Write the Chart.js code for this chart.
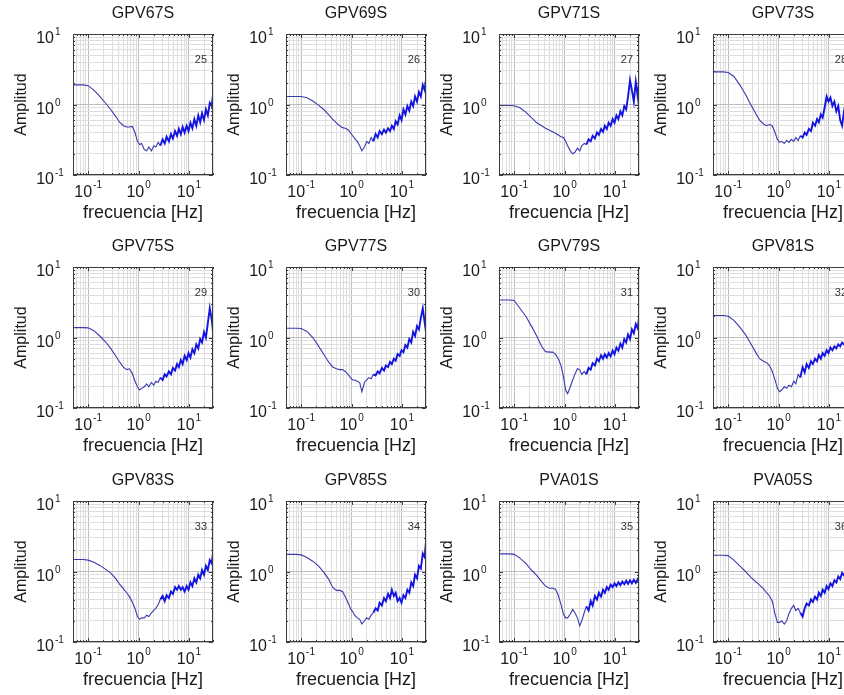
<!DOCTYPE html>
<html>
<head>
<meta charset="utf-8">
<script src="https://cdn.jsdelivr.net/npm/chart.js@4/dist/chart.umd.min.js"></script>
<style>
  html, body { margin: 0; padding: 0; background: #fff; }
  #wrap { position: relative; width: 844px; height: 695px; overflow: hidden; background: #fff; }
  #wrap canvas { position: absolute; }
</style>
</head>
<body>
<div id="wrap"></div>
<script>
// frecuencias comunes (Hz)
const freq = [
  0.05, 0.08, 0.1, 0.13, 0.17, 0.22, 0.28, 0.35, 0.42, 0.5,
  0.58, 0.66, 0.75, 0.85, 0.95, 1.05, 1.15, 1.3, 1.45, 1.6,
  1.8, 2.0, 2.2, 2.45, 2.7, 3.0, 3.3, 3.6, 4.0, 4.4,
  4.8, 5.3, 5.8, 6.3, 6.9, 7.5, 8.2, 9.0, 9.8, 10.7,
  11.7, 12.8, 14.0, 15.3, 16.7, 18.2, 19.9, 21.7, 23.7, 25.9,
  28.3, 30
];

const gpv67s = [
  1.9, 1.9, 1.85, 1.6, 1.3, 1.05, 0.85, 0.68, 0.56, 0.5,
  0.48, 0.48, 0.49, 0.4, 0.3, 0.27, 0.28, 0.23, 0.22, 0.25,
  0.22, 0.26, 0.25, 0.29, 0.26, 0.32, 0.28, 0.35, 0.3, 0.38,
  0.33, 0.42, 0.36, 0.45, 0.38, 0.48, 0.4, 0.5, 0.42, 0.55,
  0.46, 0.62, 0.5, 0.7, 0.56, 0.75, 0.6, 0.85, 0.7, 1.05,
  0.95, 1.4
];
const gpv69s = [
  1.3, 1.3, 1.3, 1.25, 1.12, 0.98, 0.85, 0.72, 0.62, 0.55,
  0.5, 0.47, 0.46, 0.44, 0.4, 0.36, 0.33, 0.3, 0.26, 0.22,
  0.25, 0.3, 0.28, 0.34, 0.3, 0.38, 0.34, 0.42, 0.38, 0.44,
  0.4, 0.46, 0.42, 0.5, 0.45, 0.58, 0.52, 0.7, 0.6, 0.85,
  0.72, 0.95, 0.82, 1.1, 0.95, 1.3, 1.1, 1.5, 1.3, 1.9,
  1.6, 2.3
];
const gpv71s = [
  0.97, 0.97, 0.96, 0.9, 0.78, 0.65, 0.55, 0.5, 0.46, 0.43,
  0.41, 0.39, 0.37, 0.35, 0.34, 0.3, 0.26, 0.22, 0.2, 0.21,
  0.24, 0.22, 0.26, 0.28, 0.27, 0.32, 0.3, 0.36, 0.33, 0.4,
  0.37, 0.45, 0.41, 0.5, 0.45, 0.55, 0.5, 0.62, 0.55, 0.7,
  0.62, 0.8, 0.7, 0.95, 0.85, 1.3, 2.2, 1.6, 1.1, 2.1,
  1.3, 2.0
];
const gpv73s = [
  2.9, 2.9, 2.85, 2.5, 1.9, 1.4, 1.0, 0.75, 0.6, 0.53,
  0.5, 0.52, 0.5, 0.4, 0.32, 0.29, 0.3, 0.28, 0.31, 0.29,
  0.32, 0.3, 0.34, 0.31, 0.36, 0.34, 0.4, 0.37, 0.45, 0.42,
  0.55, 0.5, 0.62, 0.56, 0.72, 0.65, 0.9, 1.3, 1.1, 1.25,
  0.95, 1.1, 0.8, 0.95, 0.6, 0.5, 0.8, 1.1, 0.9, 1.2,
  1.0, 1.3
];
const gpv75s = [
  1.38, 1.38, 1.37, 1.25, 1.05, 0.87, 0.7, 0.55, 0.45, 0.38,
  0.35, 0.36, 0.31, 0.24, 0.2, 0.18, 0.19, 0.2, 0.22, 0.2,
  0.23, 0.21, 0.24, 0.23, 0.27, 0.25, 0.3, 0.28, 0.33, 0.3,
  0.37, 0.34, 0.42, 0.38, 0.48, 0.42, 0.55, 0.48, 0.6, 0.52,
  0.68, 0.6, 0.8, 0.7, 0.95, 0.85, 1.2, 1.0, 1.6, 2.6,
  1.8, 1.2
];
const gpv77s = [
  1.35, 1.35, 1.34, 1.22, 1.0, 0.76, 0.58, 0.45, 0.38, 0.36,
  0.35, 0.35, 0.33, 0.3, 0.27, 0.25, 0.25, 0.24, 0.23, 0.17,
  0.23, 0.25, 0.27, 0.26, 0.3, 0.29, 0.33, 0.31, 0.37, 0.34,
  0.4, 0.38, 0.45, 0.42, 0.5, 0.47, 0.58, 0.55, 0.66, 0.62,
  0.78, 0.72, 0.95, 0.85, 1.2, 1.05, 1.45, 1.3, 1.9, 2.6,
  1.6, 1.2
];
const gpv79s = [
  3.4, 3.4, 3.35, 2.6, 2.0, 1.45, 1.05, 0.75, 0.63, 0.62,
  0.62, 0.58, 0.5, 0.4, 0.28, 0.18, 0.16, 0.2, 0.25, 0.3,
  0.36, 0.35, 0.3, 0.33, 0.3, 0.37, 0.35, 0.43, 0.4, 0.5,
  0.46, 0.56, 0.5, 0.58, 0.52, 0.6, 0.54, 0.65, 0.58, 0.72,
  0.65, 0.82, 0.72, 0.95, 0.85, 1.1, 0.95, 1.3, 1.15, 1.55,
  1.35, 1.9
];
const gpv81s = [
  2.05, 2.05, 2.0, 1.75, 1.4, 1.1, 0.82, 0.62, 0.5, 0.46,
  0.44, 0.4, 0.33, 0.25, 0.19, 0.17, 0.18, 0.2, 0.19, 0.21,
  0.2, 0.24, 0.22, 0.3, 0.27, 0.38, 0.32, 0.42, 0.37, 0.46,
  0.42, 0.5, 0.46, 0.56, 0.5, 0.6, 0.55, 0.66, 0.6, 0.72,
  0.66, 0.75, 0.7, 0.8, 0.75, 0.85, 0.8, 0.9, 0.85, 1.0,
  0.9, 1.1
];
const gpv83s = [
  1.48, 1.48, 1.45, 1.35, 1.22, 1.08, 0.95, 0.8, 0.66, 0.57,
  0.5, 0.44, 0.37, 0.3, 0.23, 0.21, 0.22, 0.22, 0.24, 0.23,
  0.26, 0.28, 0.3, 0.34, 0.4, 0.45, 0.38, 0.46, 0.42, 0.52,
  0.48, 0.6, 0.55, 0.62, 0.55, 0.6, 0.52, 0.62, 0.55, 0.7,
  0.62, 0.8, 0.7, 0.9, 0.8, 1.05, 0.9, 1.2, 1.05, 1.45,
  1.3, 1.85
];
const gpv85s = [
  1.75, 1.75, 1.72, 1.58, 1.4, 1.2, 0.98, 0.78, 0.6, 0.54,
  0.54, 0.52, 0.44, 0.36, 0.3, 0.27, 0.24, 0.22, 0.21, 0.18,
  0.2, 0.22, 0.21, 0.24, 0.26, 0.3, 0.28, 0.36, 0.33, 0.42,
  0.38, 0.48, 0.42, 0.55, 0.45, 0.5, 0.38, 0.42, 0.36, 0.46,
  0.42, 0.55, 0.5, 0.7, 0.62, 0.9, 0.8, 1.2, 1.1, 1.8,
  1.6, 2.7
];
const pva01s = [
  1.78, 1.78, 1.75, 1.55, 1.3, 1.05, 0.88, 0.72, 0.62, 0.58,
  0.58, 0.56, 0.46, 0.34, 0.25, 0.22, 0.22, 0.25, 0.29, 0.26,
  0.22, 0.17, 0.2, 0.26, 0.32, 0.28, 0.38, 0.33, 0.45, 0.4,
  0.5, 0.44, 0.55, 0.5, 0.6, 0.55, 0.65, 0.6, 0.68, 0.62,
  0.7, 0.64, 0.72, 0.66, 0.74, 0.67, 0.75, 0.68, 0.76, 0.69,
  0.78, 0.72
];
const pva05s = [
  1.7, 1.7, 1.68, 1.45, 1.2, 1.0, 0.83, 0.72, 0.64, 0.57,
  0.5, 0.45, 0.38, 0.25, 0.19, 0.19, 0.2, 0.18, 0.2, 0.25,
  0.3, 0.33, 0.28, 0.3, 0.26, 0.23, 0.3, 0.35, 0.33, 0.4,
  0.37, 0.44, 0.4, 0.5, 0.45, 0.55, 0.5, 0.62, 0.56, 0.68,
  0.62, 0.75, 0.7, 0.85, 0.78, 0.95, 0.88, 1.05, 0.95, 1.15,
  1.05, 1.3
];

const stations = ['GPV67S', 'GPV69S', 'GPV71S', 'GPV73S', 'GPV75S', 'GPV77S',
                  'GPV79S', 'GPV81S', 'GPV83S', 'GPV85S', 'PVA01S', 'PVA05S'];
const panelNumbers = ['25', '26', '27', '28', '29', '30', '31', '32', '33', '34', '35', '36'];
const series = [gpv67s, gpv69s, gpv71s, gpv73s, gpv75s, gpv77s,
                gpv79s, gpv81s, gpv83s, gpv85s, pva01s, pva05s];

// ejes log: líneas de grilla y etiquetas
const xGridTicks = [0.05, 0.06, 0.07, 0.08, 0.09, 0.1, 0.2, 0.3, 0.4, 0.5, 0.6, 0.7, 0.8, 0.9,
                    1, 2, 3, 4, 5, 6, 7, 8, 9, 10, 20, 30];
const yGridTicks = [0.1, 0.2, 0.3, 0.4, 0.5, 0.6, 0.7, 0.8, 0.9,
                    1, 2, 3, 4, 5, 6, 7, 8, 9, 10];
const xTickValues = [0.1, 1, 10];
const yTickValues = [0.1, 1, 10];
const tickExponents = ['-1', '0', '1'];

const FONT = '"Liberation Sans", Arial, Helvetica, sans-serif';
const LINE_SMOOTH = 'rgb(58, 58, 175)';
const LINE_NOISY = 'rgb(20, 20, 225)';
const NOISY_FROM = 2.5; // Hz, a partir de aquí la curva es más gruesa

const isDecade = v => Math.abs(Math.log10(v) - Math.round(Math.log10(v))) < 1e-6;

// posición de los paneles (px)
const colLeft = [0, 213, 426, 640];
const rowTop = [0, 233, 467];
const CW = 220, CH = 233;

// caja, marcas, etiquetas, títulos y número de panel
const labelsPlugin = {
  id: 'labels',
  afterDraw(chart, args, opts) {
    const ctx = chart.ctx;
    const a = chart.chartArea;
    const xs = chart.scales.x, ys = chart.scales.y;
    ctx.save();

    // caja
    ctx.strokeStyle = '#3c3c3c';
    ctx.lineWidth = 1;
    ctx.strokeRect(a.left + 0.5, a.top + 0.5, a.right - a.left - 1, a.bottom - a.top - 1);

    // marcas internas
    ctx.beginPath();
    xGridTicks.forEach(v => {
      const px = Math.round(xs.getPixelForValue(v)) + 0.5;
      const len = isDecade(v) ? 4 : 2;
      ctx.moveTo(px, a.bottom); ctx.lineTo(px, a.bottom - len);
      ctx.moveTo(px, a.top); ctx.lineTo(px, a.top + len);
    });
    yGridTicks.forEach(v => {
      const py = Math.round(ys.getPixelForValue(v)) + 0.5;
      const len = isDecade(v) ? 4 : 2;
      ctx.moveTo(a.left, py); ctx.lineTo(a.left + len, py);
      ctx.moveTo(a.right, py); ctx.lineTo(a.right - len, py);
    });
    ctx.stroke();

    ctx.fillStyle = '#1a1a1a';
    // etiquetas eje y
    yTickValues.forEach((v, i) => {
      const py = ys.getPixelForValue(v);
      ctx.font = '16px ' + FONT;
      ctx.textAlign = 'right';
      ctx.textBaseline = 'alphabetic';
      ctx.fillText('10', a.left - 19, py + 9);
      ctx.font = '10px ' + FONT;
      ctx.textAlign = 'left';
      ctx.fillText(tickExponents[i], a.left - 18, py + 1);
    });
    // etiquetas eje x
    xTickValues.forEach((v, i) => {
      const px = xs.getPixelForValue(v);
      ctx.font = '16px ' + FONT;
      const w1 = ctx.measureText('10').width;
      ctx.font = '10px ' + FONT;
      const w2 = ctx.measureText(tickExponents[i]).width;
      const x0 = px - (w1 + w2 + 1) / 2;
      ctx.textAlign = 'left';
      ctx.textBaseline = 'alphabetic';
      ctx.font = '16px ' + FONT;
      ctx.fillText('10', x0, a.bottom + 22);
      ctx.font = '10px ' + FONT;
      ctx.fillText(tickExponents[i], x0 + w1 + 1, a.bottom + 13);
    });

    const cx = (a.left + a.right) / 2;
    ctx.textAlign = 'center';
    ctx.textBaseline = 'middle';
    // título
    ctx.font = '16px ' + FONT;
    ctx.fillText(opts.title, cx, a.top - 20);
    // etiqueta x
    ctx.font = '18px ' + FONT;
    ctx.fillText('frecuencia [Hz]', cx, a.bottom + 38);
    // etiqueta y
    ctx.save();
    ctx.translate(a.left - 51, (a.top + a.bottom) / 2);
    ctx.rotate(-Math.PI / 2);
    ctx.font = '16px ' + FONT;
    ctx.fillText('Amplitud', 0, 0);
    ctx.restore();
    // número de panel
    ctx.font = '11px ' + FONT;
    ctx.textAlign = 'right';
    ctx.fillStyle = '#333';
    ctx.fillText(opts.number, a.right - 6, a.top + 26);

    ctx.restore();
  }
};

const wrap = document.getElementById('wrap');

stations.forEach((name, k) => {
  const col = k % 4, row = Math.floor(k / 4);
  const canvas = document.createElement('canvas');
  canvas.width = CW;
  canvas.height = CH;
  canvas.style.width = CW + 'px';
  canvas.style.height = CH + 'px';
  canvas.style.left = colLeft[col] + 'px';
  canvas.style.top = rowTop[row] + 'px';
  wrap.appendChild(canvas);

  const values = series[k];
  new Chart(canvas, {
    type: 'line',
    data: {
      datasets: [{
        data: freq.map((f, i) => ({ x: f, y: values[i] })),
        borderColor: LINE_SMOOTH,
        borderWidth: 1.1,
        pointRadius: 0,
        tension: 0,
        fill: false,
        segment: {
          borderColor: c => c.p0.parsed.x >= NOISY_FROM ? LINE_NOISY : LINE_SMOOTH,
          borderWidth: c => c.p0.parsed.x >= NOISY_FROM ? 1.9 : 1.1
        }
      }]
    },
    options: {
      responsive: false,
      animation: false,
      devicePixelRatio: 1,
      layout: { padding: { top: 34, right: 7, left: 0, bottom: 0 } },
      plugins: {
        legend: { display: false },
        tooltip: { enabled: false },
        labels: { title: name, number: panelNumbers[k] }
      },
      scales: {
        x: {
          type: 'logarithmic',
          min: 0.05,
          max: 30,
          afterBuildTicks: s => { s.ticks = xGridTicks.map(v => ({ value: v })); },
          afterFit: s => { s.height = 58; },
          ticks: { display: false },
          border: { display: false },
          grid: {
            drawTicks: false,
            color: c => (c.tick && isDecade(c.tick.value)) ? '#bdbdbd' : '#dedede',
            lineWidth: 1
          }
        },
        y: {
          type: 'logarithmic',
          min: 0.1,
          max: 10,
          afterBuildTicks: s => { s.ticks = yGridTicks.map(v => ({ value: v })); },
          afterFit: s => { s.width = 73; },
          ticks: { display: false },
          border: { display: false },
          grid: {
            drawTicks: false,
            color: c => (c.tick && isDecade(c.tick.value)) ? '#bdbdbd' : '#dedede',
            lineWidth: 1
          }
        }
      }
    },
    plugins: [labelsPlugin]
  });
});
</script>
</body>
</html>
